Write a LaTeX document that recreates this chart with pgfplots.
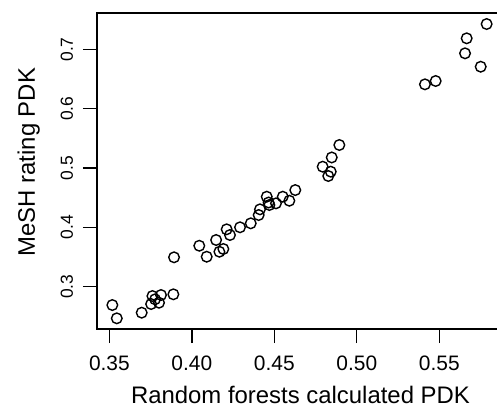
\documentclass[border=0pt]{standalone}
\usepackage{fontspec}
\setmainfont{Liberation Sans}
\usepackage{pgfplots}
\pgfplotsset{compat=1.18}
\begin{document}
\begin{tikzpicture}
\begin{axis}[
  scale only axis, width=404bp, height=316bp,
  xmin=0.3425, xmax=0.5874, ymin=0.2287, ymax=0.7616,
  axis line style={line width=1.3bp},
  tick align=outside, tick pos=left, major tick length=14bp,
  every tick/.style={line width=1.3bp, black},
  xtick={0.35,0.40,0.45,0.50,0.55},
  xticklabels={0.35,0.40,0.45,0.50,0.55},
  ytick={0.3,0.4,0.5,0.6,0.7},
  yticklabels={0.3,0.4,0.5,0.6,0.7},
  xticklabel style={font=\fontsize{21}{21}\selectfont, anchor=base, yshift=-27bp},
  yticklabel style={font=\fontsize{17.5}{17.5}\selectfont, xshift=-10bp, rotate=90, anchor=base},
  xlabel={Random forests calculated PDK},
  ylabel={MeSH rating PDK},
  xlabel style={font=\fontsize{24}{24}\selectfont, at={(axis description cs:0.5037,-0.2342)}, anchor=base},
  ylabel style={font=\fontsize{24}{24}\selectfont, at={(axis description cs:-0.1535,0.528)}, anchor=base},
]
\addplot[only marks, mark=o, mark size=5.3bp, mark options={line width=1.4bp, black}] table {
x y
0.3518 0.2691
0.3545 0.2467
0.3696 0.2562
0.3753 0.2708
0.3761 0.2843
0.3777 0.2788
0.3801 0.2730
0.3813 0.2860
0.3888 0.2872
0.3892 0.3496
0.4045 0.3691
0.4090 0.3506
0.4147 0.3788
0.4167 0.3590
0.4191 0.3636
0.4211 0.3968
0.4231 0.3872
0.4292 0.4002
0.4357 0.4069
0.4405 0.4209
0.4413 0.4305
0.4454 0.4518
0.4470 0.4378
0.4465 0.4420
0.4510 0.4406
0.4551 0.4518
0.4591 0.4450
0.4627 0.4630
0.4793 0.5024
0.4827 0.4867
0.4842 0.4940
0.4848 0.5180
0.4894 0.5390
0.5413 0.6413
0.5478 0.6469
0.5656 0.6936
0.5666 0.7189
0.5751 0.6710
0.5787 0.7430
};
\end{axis}
\pgfresetboundingbox
\path[use as bounding box] (-97bp,-79bp) rectangle (400bp,329bp);
\end{tikzpicture}
\end{document}
